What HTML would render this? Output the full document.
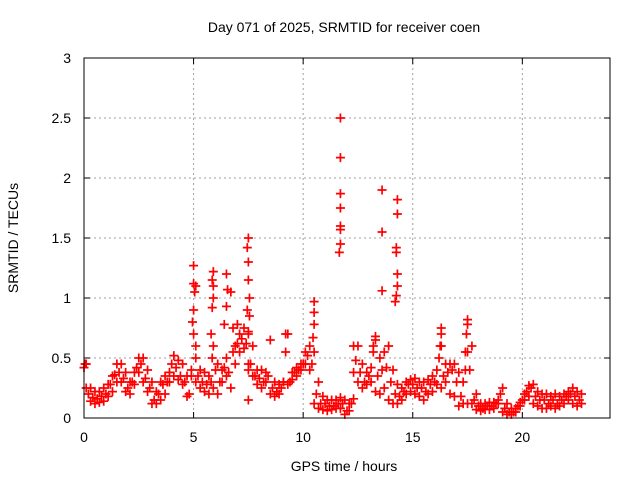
<!DOCTYPE html>
<html><head><meta charset="utf-8"><style>
body{margin:0;background:#fff;font-family:"Liberation Sans",sans-serif}
svg text{font-family:"Liberation Sans",sans-serif;font-size:14px;fill:#000}
</style></head><body>
<svg id="chart" width="640" height="480" xmlns="http://www.w3.org/2000/svg">
<rect width="640" height="480" fill="#fff"/>
<g id="grid"></g>
<g id="marks"></g>
<rect x="84" y="58" width="526" height="360" fill="none" stroke="#000" stroke-width="1"/>
<g id="ticks"></g>
<text x="344" y="32" text-anchor="middle">Day 071 of 2025, SRMTID for receiver coen</text>
<text x="344" y="471" text-anchor="middle">GPS time / hours</text>
<text transform="translate(18,238) rotate(-90)" text-anchor="middle">SRMTID / TECUs</text>
</svg>
<script>
const xTicks=[0,5,10,15,20];
const yTicks=[0,0.5,1,1.5,2,2.5,3];
const yTickLabels=["0","0.5","1","1.5","2","2.5","3"];
const baseStart=0, baseStep=0.2, bandStart=0.1;
const baseVals=[0.42,0.2,0.17,0.16,0.18,0.2,0.28,0.36,0.38,0.33,0.25,0.3,0.42,0.45,0.33,0.25,0.15,0.2,0.28,0.3,0.45,0.42,0.35,0.3,0.2,0.9,0.35,0.3,0.28,0.3,0.4,0.3,0.42,0.38,0.55,0.62,0.66,0.62,0.45,0.35,0.33,0.3,0.35,0.25,0.22,0.25,0.55,0.3,0.38,0.4,0.45,0.52,0.45,0.2,0.12,0.12,0.1,0.1,0.12,0.12,0.06,0.12,0.48,0.38,0.3,0.35,0.55,0.35,0.4,0.42,0.3,0.2,0.18,0.22,0.28,0.28,0.25,0.25,0.22,0.28,0.3,0.5,0.35,0.38,0.4,0.3,0.18,0.4,0.4,0.15,0.1,0.08,0.1,0.1,0.12,0.2,0.08,0.05,0.05,0.1,0.15,0.22,0.25,0.18,0.15,0.15,0.12,0.15,0.12,0.15,0.18,0.2,0.18,0.15];
const lowVals=[0.25,0.14,0.12,0.13,0.14,0.18,0.22,0.3,0.3,0.22,0.2,0.28,0.38,0.3,0.22,0.12,0.12,0.15,0.2,0.3,0.35,0.32,0.28,0.18,0.4,0.3,0.25,0.22,0.2,0.25,0.2,0.3,0.35,0.25,0.45,0.55,0.58,0.45,0.35,0.28,0.25,0.3,0.2,0.18,0.2,0.3,0.28,0.32,0.35,0.4,0.45,0.4,0.12,0.08,0.07,0.06,0.07,0.08,0.08,0.03,0.06,0.38,0.3,0.25,0.28,0.3,0.22,0.2,0.25,0.15,0.12,0.12,0.15,0.2,0.22,0.2,0.18,0.15,0.2,0.22,0.28,0.25,0.3,0.2,0.18,0.1,0.12,0.12,0.12,0.07,0.06,0.07,0.07,0.08,0.12,0.05,0.03,0.03,0.05,0.1,0.15,0.18,0.12,0.1,0.08,0.08,0.1,0.08,0.1,0.12,0.15,0.12,0.1,0.12];
const highVals=[0.45,0.25,0.22,0.22,0.25,0.28,0.35,0.45,0.45,0.38,0.3,0.38,0.5,0.5,0.4,0.3,0.22,0.3,0.35,0.38,0.52,0.48,0.45,0.35,0.35,1.1,0.4,0.38,0.35,1.1,0.45,0.4,0.5,1.05,0.6,0.7,0.75,0.72,0.6,0.4,0.4,0.38,0.65,0.3,0.28,0.3,0.7,0.38,0.42,0.45,0.55,0.6,0.55,0.3,0.18,0.15,0.15,0.15,0.17,0.15,0.12,0.16,0.6,0.45,0.38,0.42,0.68,0.5,0.55,0.6,0.4,0.28,0.25,0.3,0.32,0.33,0.3,0.3,0.32,0.35,0.4,0.6,0.45,0.45,0.45,0.38,0.3,0.55,0.6,0.2,0.12,0.12,0.13,0.13,0.15,0.25,0.12,0.08,0.08,0.13,0.2,0.27,0.28,0.22,0.2,0.2,0.18,0.2,0.18,0.2,0.22,0.25,0.22,0.2];
const spikeT=[0.05,5.0,5.0,5.05,4.95,5.0,5.1,5.1,5.9,5.85,5.9,5.85,5.8,5.9,5.85,6.5,6.55,6.5,6.4,7.5,7.45,7.5,7.5,7.55,7.45,7.55,7.5,7.5,7.5,10.5,10.5,10.5,10.45,11.7,11.7,11.7,11.7,11.7,11.7,11.7,11.65,13.6,13.6,13.6,14.3,14.3,14.25,14.25,14.3,14.3,14.25,14.2,16.3,16.3,16.25,17.5,17.5,17.45,17.4,13.2,13.3,12.3,9.2,6.8,7.0];
const spikeV=[0.45,1.27,1.12,1.05,0.8,0.7,0.6,0.5,1.22,1.15,1.0,0.92,0.7,0.6,0.5,1.2,1.07,0.93,0.78,1.5,1.42,1.3,1.15,1.0,0.9,0.85,0.7,0.4,0.15,0.97,0.88,0.78,0.67,2.5,2.17,1.87,1.75,1.6,1.57,1.45,1.38,1.9,1.55,1.06,1.82,1.7,1.42,1.38,1.2,1.1,1.02,0.97,0.75,0.7,0.6,0.82,0.78,0.7,0.55,0.6,0.65,0.6,0.7,0.75,0.78];
const X0=84,X1=610,Y0=418,Y1=58;
const xs=v=>X0+v*(X1-X0)/24;
const ys=v=>Y0-v*(Y0-Y1)/3;
const NS="http://www.w3.org/2000/svg";
const grid=document.getElementById('grid'),ticks=document.getElementById('ticks'),marks=document.getElementById('marks');
function ln(p,x1,y1,x2,y2,st,dash){const l=document.createElementNS(NS,'line');l.setAttribute('x1',x1);l.setAttribute('y1',y1);l.setAttribute('x2',x2);l.setAttribute('y2',y2);l.setAttribute('stroke',st);if(dash)l.setAttribute('stroke-dasharray',dash);p.appendChild(l);return l;}
xTicks.forEach(t=>{const x=xs(t);
 if(t>0){const g=ln(grid,x,Y1,x,Y0,'#a0a0a0','2,3');
 
 }
 ln(ticks,x,Y0,x,Y0-6,'#000');ln(ticks,x,Y1,x,Y1+6,'#000');
 const tx=document.createElementNS(NS,'text');tx.setAttribute('x',x);tx.setAttribute('y',Y0+24);tx.setAttribute('text-anchor','middle');tx.textContent=t;
 
 
 ticks.appendChild(tx);});
yTicks.forEach((t,i)=>{const y=ys(t);
 if(t>0&&t<3){const g=ln(grid,X0,y,X1,y,'#a0a0a0','2,3');
 
 }
 ln(ticks,X0,y,X0+6,y,'#000');ln(ticks,X1,y,X1-6,y,'#000');
 const tx=document.createElementNS(NS,'text');tx.setAttribute('x',X0-13);tx.setAttribute('y',y+5);tx.setAttribute('text-anchor','end');tx.textContent=yTickLabels[i];
 
 
 ticks.appendChild(tx);});
function plus(t,v){const x=xs(t),y=ys(v);const p=document.createElementNS(NS,'path');
 p.setAttribute('d',`M${x-4.5},${y}H${x+4.5}M${x},${y-4.5}V${y+4.5}`);p.setAttribute('stroke','#f00');p.setAttribute('stroke-width','1.7');p.setAttribute('fill','none');
 
 
 marks.appendChild(p);}
baseVals.forEach((v,i)=>plus(baseStart+i*baseStep,v));
lowVals.forEach((v,i)=>plus(bandStart+i*baseStep,v));
highVals.forEach((v,i)=>plus(bandStart+i*baseStep,v));
spikeT.forEach((t,i)=>plus(t,spikeV[i]));
</script>
</body></html>
